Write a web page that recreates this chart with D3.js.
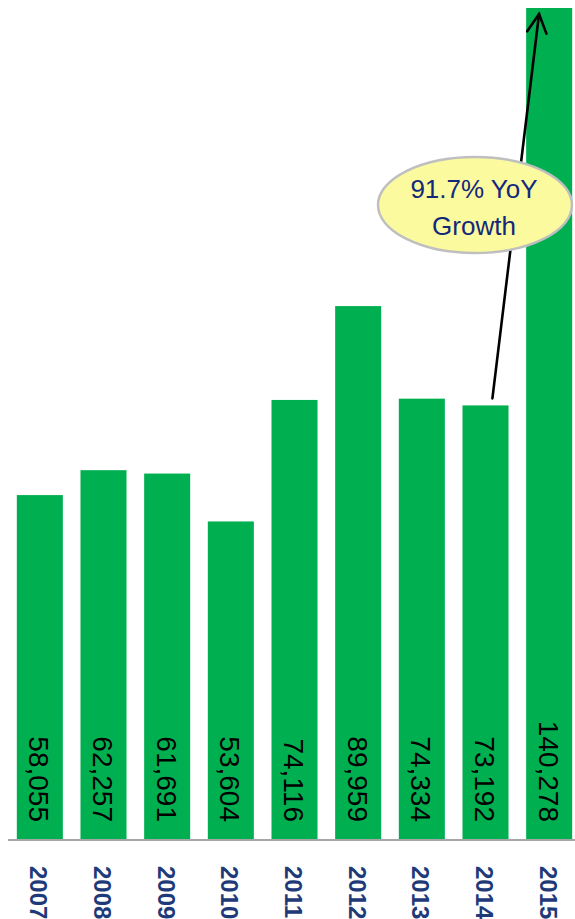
<!DOCTYPE html>
<html>
<head>
<meta charset="utf-8">
<script src="https://cdn.jsdelivr.net/npm/d3@7"></script>
<style>
  html, body { margin: 0; padding: 0; background: #ffffff; }
  svg { display: block; }
</style>
</head>
<body>
<svg id="chart" width="575" height="919"></svg>
<script>
// Annual totals, 2007–2015
const years = ["2007", "2008", "2009", "2010", "2011", "2012", "2013", "2014", "2015"];
const values = [58055, 62257, 61691, 53604, 74116, 89959, 74334, 73192, 140278];
const calloutLines = ["91.7% YoY", "Growth"];

const svg = d3.select("#chart");
const baseY = 839;

const x = d3.scaleBand()
  .domain(years)
  .range([8, 581])
  .paddingInner(0.277)
  .paddingOuter(0.1385);

const y = d3.scaleLinear()
  .domain([0, 140278])
  .range([baseY, 8]);

const fmt = d3.format(",");

// Bars
svg.append("g")
  .selectAll("rect")
  .data(values)
  .join("rect")
  .attr("x", (d, i) => x(years[i]))
  .attr("y", d => y(d))
  .attr("width", x.bandwidth())
  .attr("height", d => baseY - y(d))
  .attr("fill", "#00b050");

// Value labels, rotated inside bar bases
svg.append("g")
  .selectAll("text")
  .data(values)
  .join("text")
  .attr("transform", (d, i) => `translate(${x(years[i]) + x.bandwidth() / 2 - 1},822) rotate(90)`)
  .attr("text-anchor", "end")
  .attr("dominant-baseline", "central")
  .attr("font-family", "'Liberation Sans', Arial, sans-serif")
  .attr("font-size", 28)
  .attr("fill", "#000000")
  .text(d => fmt(d));

// Baseline axis
const xAxis = d3.axisBottom(x).tickSize(0).tickFormat("");
const axisG = svg.append("g")
  .attr("transform", `translate(0,${baseY + 1})`)
  .call(xAxis);
axisG.select(".domain")
  .attr("d", "M8,0H575")
  .attr("stroke", "#a6a6a6")
  .attr("stroke-width", 2);

// Year labels
svg.append("g")
  .selectAll("text")
  .data(years)
  .join("text")
  .attr("transform", d => `translate(${x(d) + x.bandwidth() / 2 - 1},866) rotate(90)`)
  .attr("text-anchor", "start")
  .attr("dominant-baseline", "central")
  .attr("font-family", "'Liberation Sans', Arial, sans-serif")
  .attr("font-weight", "bold")
  .attr("font-size", 24)
  .attr("fill", "#1f3a78")
  .text(d => d);

// Growth arrow from 2014 to 2015
const i14 = years.indexOf("2014");
const i15 = years.indexOf("2015");
const ax0 = x(years[i14]) + x.bandwidth() * 0.65;
const ay0 = y(values[i14]) - 7;
const ax1 = x(years[i15]) + x.bandwidth() * 0.28;
const ay1 = y(values[i15]) + 6;
const ang = Math.atan2(ay1 - ay0, ax1 - ax0);
const head = 21, spread = 0.48;

const arrow = svg.append("g")
  .attr("stroke", "#000000")
  .attr("stroke-width", 2.6)
  .attr("fill", "none")
  .attr("stroke-linecap", "round");
arrow.append("line")
  .attr("x1", ax0).attr("y1", ay0)
  .attr("x2", ax1).attr("y2", ay1);
arrow.append("path")
  .attr("d", `M${ax1 - head * Math.cos(ang - spread)},${ay1 - head * Math.sin(ang - spread)}` +
             `L${ax1},${ay1}` +
             `L${ax1 - head * Math.cos(ang + spread)},${ay1 - head * Math.sin(ang + spread)}`);

// Callout bubble
const callout = svg.append("g").attr("transform", "translate(475,205)");
callout.append("ellipse")
  .attr("rx", 97)
  .attr("ry", 48)
  .attr("fill", "#fbfa9f")
  .attr("stroke", "#bfbfbf")
  .attr("stroke-width", 2.5);
callout.selectAll("text")
  .data(calloutLines)
  .join("text")
  .attr("x", -1)
  .attr("y", (d, i) => -7 + i * 37)
  .attr("text-anchor", "middle")
  .attr("font-family", "'Liberation Sans', Arial, sans-serif")
  .attr("font-size", 26)
  .attr("fill", "#14287a")
  .text(d => d);
</script>
</body>
</html>
